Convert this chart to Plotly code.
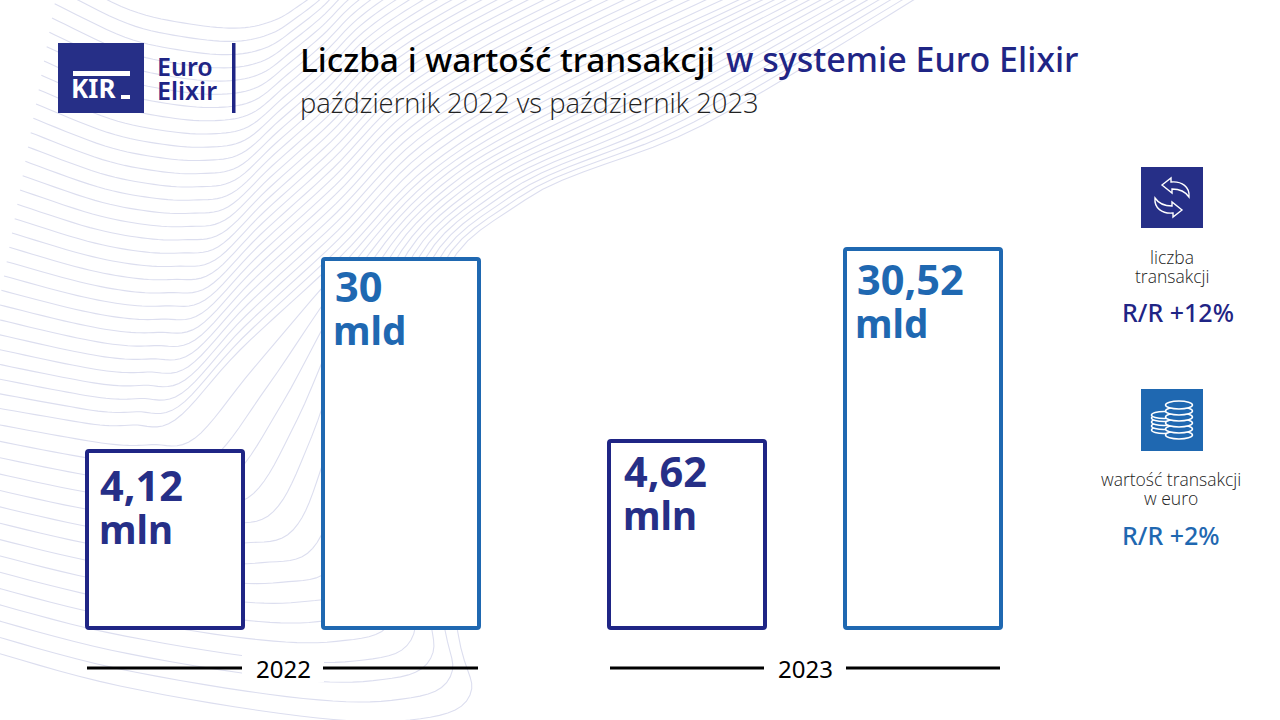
import plotly.graph_objects as go

# ---------- data ----------
years = ["2022", "2023"]
count_mln = [4.12, 4.62]
value_mld = [30, 30.52]
count_labels = ["4,12", "4,62"]
value_labels = ["30", "30,52"]
count_unit = "mln"
value_unit = "mld"
title_black = "Liczba i wartość transakcji"
title_blue = "w systemie Euro Elixir"
subtitle = "październik 2022 vs październik 2023"

NAVY = "#1f2585"
NAVY2 = "#262f87"
BLUE = "#1f68b1"
W, H = 1280, 720

def px(x): return x / W
def py(y): return 1 - y / H

def axis_range(v_ref, p_ref, px_per_unit):
    return [v_ref - (H - p_ref) / px_per_unit, v_ref + p_ref / px_per_unit]

BASE_PX = 628
count_scale = 20.0
value_scale = 19.2
count_range = axis_range(count_mln[0], 451, count_scale)
value_range = axis_range(value_mld[0], 259, value_scale)
count_base = count_mln[0] - (BASE_PX - 451) / count_scale
value_base = value_mld[0] - (BASE_PX - 259) / value_scale

fig = go.Figure()
fig.add_bar(x=years, y=[v - count_base for v in count_mln], base=count_base, yaxis="y",
            offsetgroup="a", marker=dict(color="white", line=dict(color=NAVY, width=4), cornerradius=2),
            hoverinfo="skip", showlegend=False)
fig.add_bar(x=years, y=[v - value_base for v in value_mld], base=value_base, yaxis="y2",
            offsetgroup="b", marker=dict(color="white", line=dict(color=BLUE, width=4), cornerradius=2),
            hoverinfo="skip", showlegend=False)

# ---------- decorative background curves (interpolated between guide curves) ----------
G0 = [(-20,648),(120,686),(300,716),(410,720),(470,695),(455,610),(435,310),(525,200),(703,125),(930,-10)]
G1 = [(-20,405),(55,418),(100,425),(133,425),(175,420),(240,350),(340,257),(430,165),(560,85),(760,-10)]
G2 = [(60,-25),(130,10),(190,24),(240,28),(275,20),(300,5),(320,-10),(335,-25),(350,-40),(370,-60)]
N_LINES = 46
SPLIT = 1/3

def lerp(a, b, t):
    return [(p[0] + (q[0]-p[0])*t, p[1] + (q[1]-p[1])*t) for p, q in zip(a, b)]

def catmull(pts, steps=8):
    out = []
    P = [pts[0]] + pts + [pts[-1]]
    for i in range(1, len(P)-2):
        p0, p1, p2, p3 = P[i-1], P[i], P[i+1], P[i+2]
        for s in range(steps):
            t = s/steps
            f = lambda a, b, c, d: 0.5*(2*b + (c-a)*t + (2*a-5*b+4*c-d)*t*t + (3*b-a-3*c+d)*t*t*t)
            out.append((f(p0[0],p1[0],p2[0],p3[0]), f(p0[1],p1[1],p2[1],p3[1])))
    out.append(pts[-1])
    return out

shapes = []
path = ""
for i in range(N_LINES):
    t = i / (N_LINES - 1)
    pts = lerp(G0, G1, t/SPLIT) if t <= SPLIT else lerp(G1, G2, (t-SPLIT)/(1-SPLIT))
    sm = catmull(pts)
    path += "M" + " L".join(f"{px(x):.5f},{py(y):.5f}" for x, y in sm) + " "
shapes.append(dict(type="path", xref="paper", yref="paper", path=path, layer="below",
                   line=dict(color="#dcdeef", width=1.1)))

def rect(x0, y0, x1, y1, color, layer="below"):
    return dict(type="rect", xref="paper", yref="paper", x0=px(x0), x1=px(x1), y0=py(y0), y1=py(y1),
                fillcolor=color, line=dict(width=0), layer=layer)

def hline(x0, x1, y, color="black", width=3):
    return dict(type="line", xref="paper", yref="paper", x0=px(x0), x1=px(x1), y0=py(y), y1=py(y),
                line=dict(color=color, width=width), layer="below")

# year rules
for c in (283, 805):
    shapes.append(rect(c-41, 655, c+41, 682, "white"))
shapes += [hline(87, 242, 668), hline(323, 478, 668), hline(610, 764, 668), hline(846, 1000, 668)]

# logo
shapes.append(rect(58, 43, 144, 113, NAVY2, "above"))
shapes.append(rect(73, 71, 130, 76, "white", "above"))
shapes.append(rect(121, 95, 130, 99, "white", "above"))
shapes.append(rect(232, 43, 235.5, 113, NAVY, "above"))

# icons
shapes.append(rect(1141, 167, 1203, 228, NAVY2, "above"))
shapes.append(rect(1141, 389, 1203, 451, BLUE, "above"))

def arrow_path(flip=False):
    seq = [("M",[(1162,185)]),("L",[(1171,178)]),("L",[(1171,182)]),
           ("C",[(1182,181),(1190,187),(1189,197)]),
           ("C",[(1185,191),(1180,189),(1172,189)]),("L",[(1172,193)]),("L",[(1162,185)])]
    s = ""
    for cmd, ps in seq:
        s += cmd
        for x, y in ps:
            if flip:
                x, y = 2344 - x, 395 - y
            s += f"{px(x):.5f},{py(y):.5f} "
    return s + "Z"

for fl in (False, True):
    shapes.append(dict(type="path", xref="paper", yref="paper", path=arrow_path(fl),
                       line=dict(color="white", width=1.4), layer="above"))

def coin(cx, cy, rx, ry):
    return dict(type="circle", xref="paper", yref="paper", x0=px(cx-rx), x1=px(cx+rx),
                y0=py(cy+ry), y1=py(cy-ry), fillcolor=BLUE, line=dict(color="white", width=1.5), layer="above")

for cy in (430, 426, 422, 418, 415):
    shapes.append(coin(1164, cy, 12.5, 3.5))
for cy in (435, 429, 423, 417, 411, 405):
    shapes.append(coin(1179, cy, 13.5, 4))

# ---------- text ----------
ann = []
def T(x, y, s, size, color="black", anchor="left", family="Noto Sans", weight=400):
    ann.append(dict(x=px(x), y=py(y), xref="paper", yref="paper", text=s, showarrow=False,
                    xanchor=anchor, yanchor="middle", borderpad=0,
                    font=dict(size=size, color=color, family=family, weight=weight)))

T(298.5, 58.5, title_black, 33.4, "black", weight=500)
T(725, 58.5, title_blue, 34, NAVY, weight=500)
T(299, 103, subtitle, 27.4, "#222222", family="Open Sans", weight=300)

T(70, 88, "KIR", 26, "white", family="Noto Sans", weight=700)
T(156, 66, "Euro", 25, NAVY, weight=600)
T(156, 90, "Elixir", 25, NAVY, weight=600)

for lab, x, y in zip(count_labels, (99, 623), (485, 471)):
    T(x, y, lab, 41.5, NAVY2, weight=700)
    T(x - 1, y + 44, count_unit, 38.5, NAVY2, weight=700)
for lab, x, y in zip(value_labels, (334, 856), (286, 279)):
    T(x, y, lab, 41.5, BLUE, weight=700)
    T(x - 2, y + 44, value_unit, 38.5, BLUE, weight=700)

for y_, c in zip(years, (283, 805)):
    T(c, 668, y_, 24, "black", "center")

T(1171.5, 257, "liczba", 17.5, "#222222", "center", "Open Sans", 300)
T(1171.5, 276, "transakcji", 17.5, "#222222", "center", "Open Sans", 300)
T(1178, 312, "R/R +12%", 25, NAVY, "center", weight=500)
T(1171, 479, "wartość transakcji", 17.5, "#222222", "center", "Open Sans", 300)
T(1171, 498, "w euro", 17.5, "#222222", "center", "Open Sans", 300)
T(1171, 535, "R/R +2%", 25, BLUE, "center", weight=500)

slot = 522.0
fig.update_layout(
    width=W, height=H, margin=dict(l=0, r=0, t=0, b=0),
    paper_bgcolor="white", plot_bgcolor="rgba(0,0,0,0)",
    barmode="group", bargap=1 - 472/slot, bargroupgap=1 - 156/236,
    xaxis=dict(type="category", range=[-283/slot, (W-283)/slot], visible=False, fixedrange=True),
    yaxis=dict(range=count_range, visible=False, fixedrange=True),
    yaxis2=dict(range=value_range, visible=False, overlaying="y", fixedrange=True),
    shapes=shapes, annotations=ann, showlegend=False,
)
fig.write_html("out.html", config=dict(displayModeBar=False),
               post_script="document.body.style.margin='0';document.documentElement.style.overflow='hidden';")
